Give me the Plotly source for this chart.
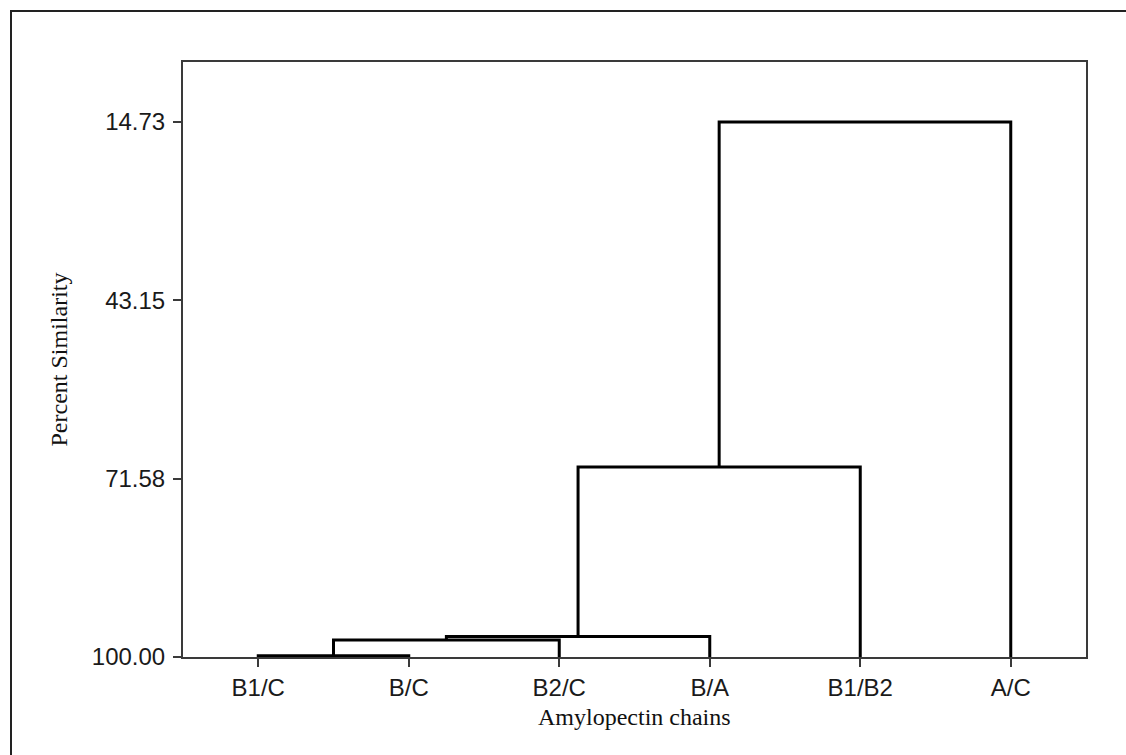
import plotly.graph_objects as go

# Leaves of the dendrogram, left to right
chain_labels = ["B1/C", "B/C", "B2/C", "B/A", "B1/B2", "A/C"]

# Agglomeration steps: clusters 0..5 are the leaves, each step creates cluster 6, 7, ...
merge_left = [0, 6, 7, 8, 9]
merge_right = [1, 2, 3, 4, 5]
merge_similarity = [99.8, 97.3, 96.75, 69.7, 14.73]

y_tick_values = [14.73, 43.15, 71.58, 100.00]
y_tick_labels = ["14.73", "43.15", "71.58", "100.00"]

# Build the elbow segments of the tree from the merge table
node_x = {i: float(i) for i in range(len(chain_labels))}
node_y = {i: 100.0 for i in range(len(chain_labels))}
seg_x, seg_y = [], []
for k, (a, b, s) in enumerate(zip(merge_left, merge_right, merge_similarity)):
    new_id = len(chain_labels) + k
    seg_x += [node_x[a], node_x[a], node_x[b], node_x[b], None]
    seg_y += [node_y[a], s, s, node_y[b], None]
    node_x[new_id] = (node_x[a] + node_x[b]) / 2
    node_y[new_id] = s

fig = go.Figure()
fig.add_trace(go.Scatter(
    x=seg_x, y=seg_y, mode="lines",
    line=dict(color="black", width=3),
    cliponaxis=False, showlegend=False, hoverinfo="skip",
))

tick_font = dict(family="Liberation Sans, Arial, sans-serif", size=24, color="#1a1a1a")
title_font = dict(family="Liberation Serif, Times New Roman, serif", size=24, color="#111111")

fig.update_layout(
    width=1126, height=755,
    margin=dict(l=183, r=40, t=62, b=98),
    paper_bgcolor="white", plot_bgcolor="white",
    showlegend=False,
    xaxis=dict(
        range=[-0.5, len(chain_labels) - 0.5],
        tickmode="array",
        tickvals=list(range(len(chain_labels))),
        ticktext=chain_labels,
        showgrid=False, zeroline=False,
        showline=True, mirror=True, linecolor="#3a3a3a", linewidth=2,
        ticks="outside", ticklen=8, tickwidth=1.5, tickcolor="#3a3a3a",
        tickfont=tick_font,
    ),
    yaxis=dict(
        range=[100, 5.17],
        tickmode="array",
        tickvals=y_tick_values,
        ticktext=y_tick_labels,
        showgrid=False, zeroline=False,
        showline=True, mirror=True, linecolor="#3a3a3a", linewidth=2,
        ticks="outside", ticklen=8, tickwidth=1.5, tickcolor="#3a3a3a",
        tickfont=tick_font,
        ticklabelstandoff=3,
    ),
    annotations=[
        dict(text="Amylopectin chains", xref="paper", yref="paper",
             x=0.5, y=-0.076, xanchor="center", yanchor="top",
             showarrow=False, font=title_font),
        dict(text="Percent Similarity", xref="paper", yref="paper",
             x=(58 - 183) / 903, y=0.5, xanchor="center", yanchor="middle",
             textangle=-90, showarrow=False, font=title_font),
    ],
    shapes=[
        # outer frame around the whole graph
        dict(type="rect", xref="paper", yref="paper",
             x0=(11 - 183) / 903, x1=1.08, y0=-0.25, y1=(657 - 11) / 595,
             line=dict(color="#222222", width=2), fillcolor="rgba(0,0,0,0)",
             layer="below"),
    ],
)

fig.write_html("out.html")
